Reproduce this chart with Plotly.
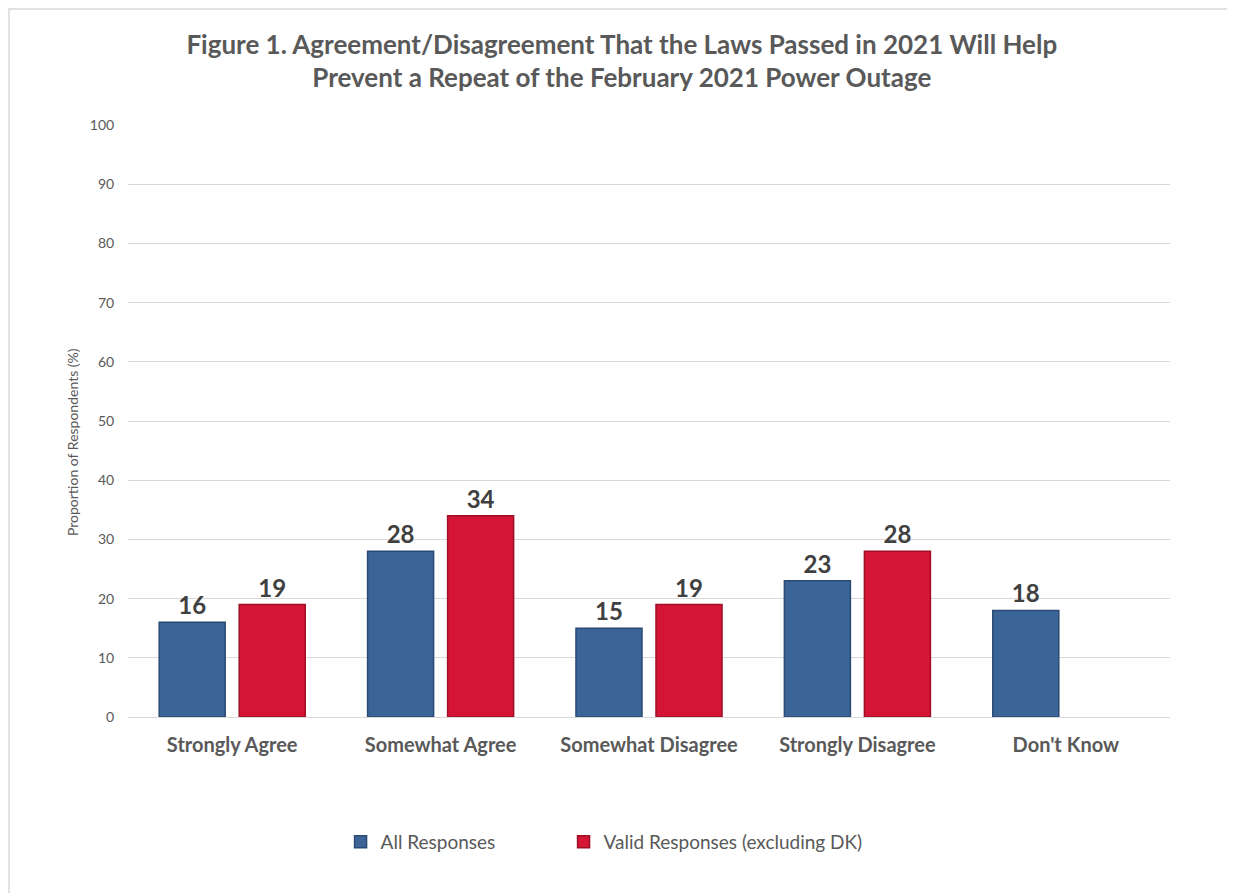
import plotly.graph_objects as go

categories = ["Strongly Agree", "Somewhat Agree", "Somewhat Disagree", "Strongly Disagree", "Don't Know"]
all_responses = [16, 28, 15, 23, 18]
valid_responses = [19, 34, 19, 28, None]
y_ticks = [0, 10, 20, 30, 40, 50, 60, 70, 80, 90, 100]

FONT = "Lato"
fig = go.Figure()
fig.add_trace(go.Bar(
    name="All Responses", x=categories, y=all_responses, legend="legend",
    marker=dict(color="#3B6597", line=dict(color="#2A4A73", width=1.5)),
    text=[str(v) for v in all_responses], textposition="outside",
    textfont=dict(family=FONT, size=24, color="#404040", weight="bold"),
    cliponaxis=False,
))
fig.add_trace(go.Bar(
    name="Valid Responses (excluding DK)", x=categories, y=valid_responses, legend="legend2",
    marker=dict(color="#D41535", line=dict(color="#9E0F27", width=1.5)),
    text=["" if v is None else str(v) for v in valid_responses], textposition="outside",
    textfont=dict(family=FONT, size=24, color="#404040", weight="bold"),
    cliponaxis=False,
))

legend_common = dict(
    orientation="h", yanchor="middle", y=-0.211, xanchor="left",
    font=dict(family=FONT, size=19, color="#595959"),
    itemwidth=30, bgcolor="rgba(0,0,0,0)",
)

fig.update_layout(
    width=1235, height=893,
    margin=dict(l=120, r=73, t=117, b=184),
    paper_bgcolor="white", plot_bgcolor="white",
    barmode="group", bargap=0.232, bargroupgap=0.175,
    title=dict(
        text="Figure 1. Agreement/Disagreement That the Laws Passed in 2021 Will Help<br>Prevent a Repeat of the February 2021 Power Outage",
        x=0.497, xanchor="center", y=0.949, yanchor="middle",
        font=dict(family=FONT, size=26, color="#595959", weight="bold"),
    ),
    xaxis=dict(
        showgrid=False, showline=True, linecolor="#D9D9D9", linewidth=1,
        tickfont=dict(family=FONT, size=20, color="#595959", weight="bold"),
        ticks="outside", ticklen=10, tickcolor="rgba(0,0,0,0)",
    ),
    yaxis=dict(
        range=[0, 100], tickvals=y_ticks, showgrid=True, gridcolor="#D9D9D9",
        zeroline=False, showline=False,
        tickfont=dict(family=FONT, size=14, color="#595959"),
        ticks="outside", ticklen=10, tickcolor="rgba(0,0,0,0)",
    ),
    legend=dict(x=0.204, **legend_common),
    legend2=dict(x=0.418, **legend_common),
    showlegend=True,
)
fig.add_annotation(
    text="Proportion of Respondents (%)", xref="paper", yref="paper",
    x=-0.0537, y=0.4645, xanchor="center", yanchor="middle", textangle=-90,
    showarrow=False, font=dict(family=FONT, size=14, color="#595959"),
)
fig.add_shape(type="rect", xref="paper", yref="paper",
              x0=-0.1142, x1=1.2, y0=-0.5, y1=1.196,
              line=dict(color="#D9D9D9", width=1.5), fillcolor="rgba(0,0,0,0)", layer="below")

fig.write_html("out.html")
